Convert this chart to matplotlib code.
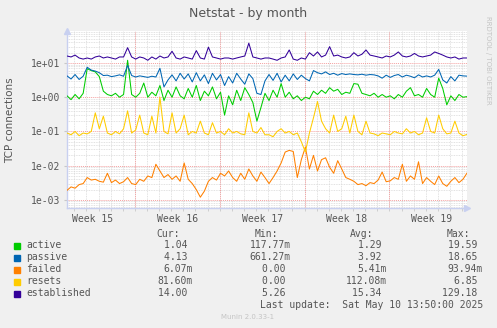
import numpy as np
import matplotlib.pyplot as plt
from matplotlib.patches import Rectangle

# values, one sample every 8 hours
established = [16, 15, 17, 14, 13, 14, 13, 15, 16, 14,
               15, 14, 13, 15, 15, 28, 15, 13, 15, 14,
               12, 15, 13, 16, 14, 15, 22, 14, 13, 15,
               14, 13, 23, 14, 13, 29, 15, 14, 13, 14,
               14, 13, 14, 15, 16, 38, 15, 14, 13, 14,
               14, 13, 12, 14, 15, 24, 13, 12, 14, 13,
               20, 16, 21, 15, 17, 30, 16, 17, 15, 14,
               15, 20, 16, 18, 24, 17, 16, 15, 14, 16,
               15, 17, 21, 16, 15, 16, 19, 16, 15, 16,
               17, 21, 19, 17, 15, 14, 15, 13, 14, 14]
passive = [4.2, 3.4, 4.6, 3.3, 4.1, 7.5, 6.2, 5.8, 5.2, 4.3,
           4.4, 4.0, 4.2, 4.5, 4.1, 8.5, 4.3, 3.9, 4.2, 4.0,
           3.8, 4.1, 3.9, 7.0, 2.0, 3.2, 4.5, 3.0, 5.0, 3.4,
           4.8, 2.8, 5.2, 3.0, 4.5, 2.5, 5.0, 3.2, 4.6, 2.2,
           4.0, 2.6, 5.0, 3.4, 2.4, 4.8, 3.5, 1.3, 1.2, 3.0,
           4.6, 3.1, 5.0, 2.8, 4.4, 3.0, 4.8, 3.3, 4.4, 3.5,
           3.0, 6.0, 5.2, 4.8, 5.5, 4.6, 5.0, 4.4, 4.9, 4.6,
           4.8, 4.6, 4.5, 4.7, 4.4, 4.6, 4.5, 4.2, 3.6, 4.4,
           3.8, 4.3, 4.6, 3.9, 4.4, 4.1, 3.7, 4.5, 3.9, 4.2,
           3.9, 4.4, 6.5, 3.2, 2.6, 4.0, 3.0, 4.4, 4.2, 4.13]
active = [1.1, 0.85, 1.2, 0.9, 1.3, 6.8, 6.0, 5.5, 4.0, 1.5,
          1.2, 1.1, 1.3, 1.0, 1.2, 12, 1.2, 1.0, 1.3, 2.6,
          1.0, 1.4, 1.1, 2.2, 0.8, 1.6, 1.0, 2.0, 1.1, 0.9,
          1.8, 1.0, 2.2, 0.8, 1.5, 1.1, 2.0, 0.9, 1.4, 0.3,
          1.1, 0.6, 1.6, 0.8, 1.9, 1.2, 0.7, 0.2, 0.5, 1.3,
          0.8, 1.6, 1.0, 2.5, 1.0, 1.4, 0.9, 1.1, 0.8, 1.0,
          0.9, 1.5, 1.2, 1.6, 1.3, 1.9, 1.5, 1.7, 1.2, 1.4,
          1.3, 2.5, 2.4, 1.3, 1.2, 1.1, 1.3, 1.0, 1.2, 1.0,
          1.1, 0.9, 1.2, 1.0, 1.5, 1.9, 1.1, 1.2, 1.0, 1.8,
          1.2, 1.0, 3.6, 1.8, 0.6, 1.1, 0.8, 1.2, 1.0, 1.04]
resets = [0.09, 0.08, 0.10, 0.075, 0.09, 0.085, 0.10, 0.35, 0.12, 0.28,
          0.09, 0.08, 0.10, 0.085, 0.12, 0.40, 0.09, 0.11, 0.30, 0.09,
          0.08, 0.28, 0.09, 1.0, 0.10, 0.085, 0.35, 0.09, 0.12, 0.30,
          0.08, 0.10, 0.09, 0.20, 0.09, 0.08, 0.18, 0.09, 0.10, 0.08,
          0.12, 0.09, 0.10, 0.085, 0.08, 0.35, 0.10, 0.09, 0.13, 0.08,
          0.08, 0.07, 0.10, 0.12, 0.09, 0.10, 0.08, 0.09, 0.05, 0.025,
          0.09, 0.25, 0.75, 0.20, 0.12, 0.09, 0.30, 0.10, 0.12, 0.28,
          0.09, 0.30, 0.10, 0.08, 0.20, 0.09, 0.085, 0.075, 0.09, 0.085,
          0.08, 0.10, 0.09, 0.085, 0.12, 0.09, 0.10, 0.08, 0.09, 0.25,
          0.10, 0.09, 0.30, 0.12, 0.085, 0.09, 0.20, 0.09, 0.075, 0.0816]
failed = [0.0019, 0.0024, 0.0022, 0.0028, 0.0030, 0.0045, 0.0038, 0.0040, 0.0035, 0.0033,
          0.0060, 0.0032, 0.0038, 0.0030, 0.0034, 0.0045, 0.0030, 0.0028, 0.0040, 0.0035,
          0.0050, 0.0045, 0.011, 0.0070, 0.0045, 0.0055, 0.0040, 0.0050, 0.0035, 0.012,
          0.0040, 0.0030, 0.0020, 0.0012, 0.0018, 0.0035, 0.0045, 0.0038, 0.0060, 0.0050,
          0.0070, 0.0045, 0.0035, 0.0060, 0.0040, 0.0080, 0.0050, 0.0035, 0.0065, 0.0045,
          0.0030, 0.0045, 0.0070, 0.012, 0.025, 0.028, 0.026, 0.0045, 0.015, 0.035,
          0.008, 0.020, 0.007, 0.015, 0.017, 0.009, 0.0060, 0.014, 0.0080, 0.0045,
          0.0040, 0.0035, 0.0028, 0.0030, 0.0026, 0.0032, 0.0030, 0.0038, 0.0065, 0.0034,
          0.0036, 0.0045, 0.0040, 0.0110, 0.0035, 0.0050, 0.0040, 0.0130, 0.0030, 0.0045,
          0.0035, 0.0028, 0.0050, 0.0030, 0.0025, 0.0035, 0.0045, 0.0032, 0.0040, 0.00607]

week_labels = ['Week 15', 'Week 16', 'Week 17', 'Week 18', 'Week 19']
first_monday = 5.6   # days from left edge to first week boundary

names = ['active', 'passive', 'failed', 'resets', 'established']
colors = ['#00CC00', '#0066B3', '#FF8000', '#FFCC00', '#330099']
cur = ['1.04 ', '4.13 ', '6.07m', '81.60m', '14.00 ']
mins = ['117.77m', '661.27m', '0.00 ', '0.00 ', '5.26 ']
avgs = ['1.29 ', '3.92 ', '5.41m', '112.08m', '15.34 ']
maxs = ['19.59 ', '18.65 ', '93.94m', '6.85 ', '129.18 ']

W, H = 497, 328
txt = '#555555'
mono = 'DejaVu Sans Mono'

fig = plt.figure(figsize=(W / 100, H / 100), dpi=100, facecolor='#F0F0F0')
ax = fig.add_axes([67 / W, 1 - 208 / H, 400 / W, 177 / H])
ax.set_facecolor('white')
ax.set_yscale('log')
ax.set_xlim(0, 33)
ax.set_ylim(5.8e-4, 86)

# grid, rrdtool style
for d in np.arange(0.6, 33, 1.0):
    ax.axvline(d, color='#D8D8D8', lw=0.6, ls=(0, (1, 1)), zorder=0)
for e in range(-4, 2):
    for k in range(2, 10):
        ax.axhline(k * 10.0 ** e, color='#D8D8D8', lw=0.6, ls=(0, (1, 1)), zorder=0)
weeks = first_monday + 7 * np.arange(4)
for w in weeks:
    ax.axvline(w, color='#F4A0A0', lw=0.7, ls=(0, (1, 1)), zorder=0)
for e in range(-3, 2):
    ax.axhline(10.0 ** e, color='#F4A0A0', lw=0.7, ls=(0, (1, 1)), zorder=0)

t = np.arange(len(active)) / 3.0
for vals, c in zip([active, passive, failed, resets, established], colors):
    ax.plot(t, vals, color=c, lw=0.75, zorder=3)

ax.set_xticks(first_monday - 3.5 + 7 * np.arange(5))
ax.set_xticklabels(week_labels, fontfamily=mono, fontsize=7, color=txt)
ax.set_xticks(np.arange(0.6, 33, 1.0), minor=True)
ax.set_yticks([1e-3, 1e-2, 1e-1, 1e0, 1e1])
ax.set_yticklabels(['1e-03', '1e-02', '1e-01', '1e+00', '1e+01'],
                   fontfamily=mono, fontsize=7, color=txt)
ax.yaxis.set_minor_locator(plt.NullLocator())
ax.tick_params(axis='x', which='major', length=0, pad=4)
ax.tick_params(axis='x', which='minor', length=2, color='#C8C8C8')
ax.tick_params(axis='y', which='major', length=2, color='#C8C8C8', pad=3)

for s in ['top', 'right']:
    ax.spines[s].set_visible(False)
for s in ['left', 'bottom']:
    ax.spines[s].set_color('#C8D0F0')
    ax.spines[s].set_linewidth(1.0)
ax.plot(1.0, 0, marker='>', ms=4, color='#C8D0F0', transform=ax.transAxes, clip_on=False)
ax.plot(0, 1.0, marker='^', ms=4, color='#C8D0F0', transform=ax.transAxes, clip_on=False)

fig.text(248 / W, 1 - 13 / H, 'Netstat - by month', ha='center', va='center',
         fontsize=9, color=txt)
fig.text(10 / W, 1 - 120 / H, 'TCP connections', ha='center', va='center',
         rotation=90, fontsize=7.5, color=txt)
fig.text(488 / W, 1 - 60 / H, 'RRDTOOL / TOBI OETIKER', ha='center', va='center',
         rotation=270, fontsize=5, color='#C4C4C4')

# legend block
def fy(y):
    return 1 - y / H

for x, h in zip([180, 278, 373, 470], ['Cur:', 'Min:', 'Avg:', 'Max:']):
    fig.text(x / W, fy(234), h, ha='right', va='center', fontfamily=mono,
             fontsize=7, color=txt)
for i, n in enumerate(names):
    y = 245.5 + 12 * i
    fig.add_artist(Rectangle((14 / W, fy(y + 3)), 6 / W, 6 / H, color=colors[i],
                             transform=fig.transFigure))
    fig.text(26.5 / W, fy(y), n, ha='left', va='center', fontfamily=mono,
             fontsize=7, color=txt)
    for x, col in zip([193, 291, 387, 483], [cur, mins, avgs, maxs]):
        fig.text(x / W, fy(y), col[i], ha='right', va='center', fontfamily=mono,
                 fontsize=7, color=txt)
fig.text(483 / W, fy(305.5), 'Last update:  Sat May 10 13:50:00 2025', ha='right',
         va='center', fontfamily=mono, fontsize=7, color=txt)
fig.text(248 / W, fy(317), 'Munin 2.0.33-1', ha='center', va='center',
         fontsize=5, color='#C4C4C4')

fig.savefig('out.png', dpi=100, facecolor=fig.get_facecolor())
